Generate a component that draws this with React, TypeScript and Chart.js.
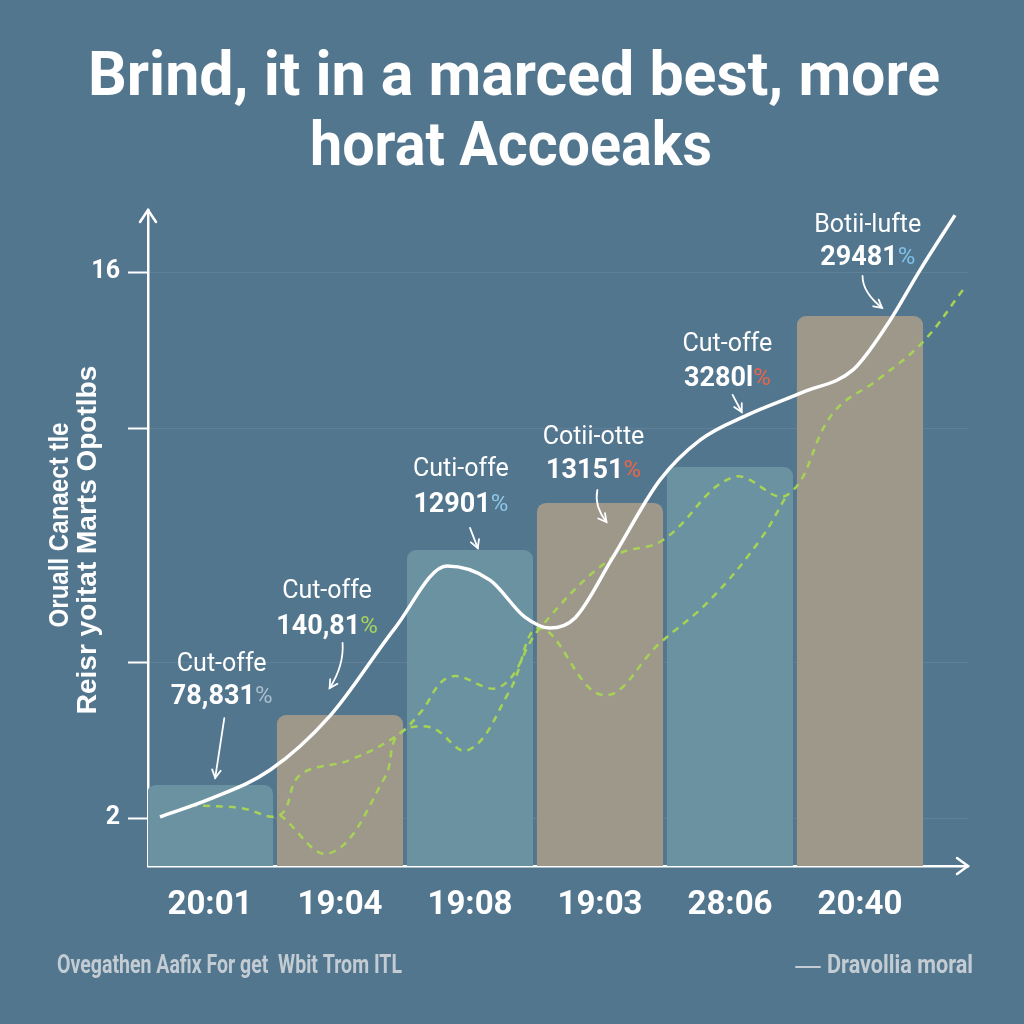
import React, { useEffect, useRef } from 'react';
import { Chart, registerables } from 'chart.js';

Chart.register(...registerables);

// ---- data ----
const categories = ['20:01', '19:04', '19:08', '19:03', '28:06', '20:40'];
const barValues = [2.85, 4.64, 8.87, 10.08, 11.0, 14.87];
const barColors = ['#6a92a1', '#9e988b', '#6a92a1', '#9e988b', '#6a92a1', '#9e988b'];

const yTicks = [2, 6, 12, 16];
const yTickLabels = ['2', '', '', '16'];

const whiteX = [-0.385, 0, 0.462, 0.923, 1.423, 1.823, 2.154, 2.423, 2.615, 2.808, 3.1, 3.462, 3.769, 4.131, 4.562, 4.946, 5.208, 5.462, 5.731];
const whiteY = [2.03, 2.49, 3.23, 4.62, 6.87, 8.46, 8.1, 7.15, 6.87, 7.13, 8.69, 10.67, 11.69, 12.33, 12.92, 13.49, 14.64, 16.05, 17.46];

const greenAX = [-0.154, 0.231, 0.538, 0.692, 1.077, 1.446, 1.615, 1.846, 2.231, 2.538, 3.1, 3.485, 4.023, 4.438, 4.792, 5.154, 5.485, 5.792];
const greenAY = [2.33, 2.26, 2.08, 3.1, 3.49, 4.13, 4.69, 5.62, 5.36, 6.87, 8.69, 9.13, 10.74, 10.28, 12.38, 13.28, 14.21, 15.54];

const greenBX = [0.538, 0.923, 1.346, 1.446, 1.692, 1.985, 2.308, 2.538, 3.023, 3.462, 3.846, 4.231, 4.438];
const greenBY = [2.08, 1.1, 3.05, 4.13, 4.33, 3.74, 5.28, 6.87, 5.15, 6.49, 7.59, 9.13, 10.28];

const annLabels = ['Cut-offe', 'Cut-offe', 'Cuti-offe', 'Cotii-otte', 'Cut-offe', 'Botii-lufte'];
const annValues = ['78,831', '140,81', '12901', '13151', '3280l', '29481'];
const annSuffixColors = ['#a9bfce', '#a6d45c', '#8ec6e6', '#e8664a', '#e8664a', '#7fc2ea'];
const annX = [0.09, 0.9, 1.93, 2.95, 3.98, 5.06];
const annLabelY = [5.92, 7.79, 10.92, 11.74, 14.13, 17.18];
const annValueY = [5.1, 6.9, 10.03, 10.9, 13.26, 16.36];
const annFromX = [0.11, 1.02, 2.0, 2.98, 4.02, 5.02];
const annFromY = [4.56, 6.49, 9.44, 10.41, 12.85, 15.9];
const annToX = [0.04, 0.92, 2.06, 3.05, 4.09, 5.17];
const annToY = [3.03, 5.33, 8.92, 9.59, 12.41, 15.08];
const annBend = [0, 8, 0, -8, 0, -10];

const titleLines = ['Brind, it in a marced best, more', 'horat Accoeaks'];
const yTitleLines = ['Oruall Canaect tle', 'Reisr yoitat Marts Opotlbs'];
const footLeft = 'Ovegathen Aafix For get  Wbit Trom ITL';
const footRight = 'Dravollia moral';

const BG = '#53768f';

const zip = (xs: number[], ys: number[]) => xs.map((x, i) => ({ x, y: ys[i] }));

const decorPlugin = {
  id: 'decor',
  beforeDraw(chart: any) {
    const { ctx, width, height } = chart;
    ctx.save();
    ctx.fillStyle = BG;
    ctx.fillRect(0, 0, width, height);
    ctx.restore();
  },
  afterDraw(chart: any) {
    const { ctx, chartArea } = chart;
    const xs = chart.scales.x;
    const ys = chart.scales.y;
    ctx.save();

    // title
    ctx.fillStyle = '#ffffff';
    ctx.textAlign = 'center';
    ctx.textBaseline = 'alphabetic';
    ctx.font = 'bold 62px Roboto';
    ctx.fillText(titleLines[0], 514, 95, 852);
    ctx.fillText(titleLines[1], 511, 165, 402);

    // y title
    ctx.font = 'bold 28px "Liberation Sans"';
    ctx.textBaseline = 'middle';
    ctx.save();
    ctx.translate(60, 525);
    ctx.rotate(-Math.PI / 2);
    ctx.fillText(yTitleLines[0], 0, 0, 205);
    ctx.restore();
    ctx.save();
    ctx.translate(88, 540);
    ctx.rotate(-Math.PI / 2);
    ctx.fillText(yTitleLines[1], 0, 0, 375);
    ctx.restore();

    // axis arrows
    ctx.strokeStyle = '#ffffff';
    ctx.lineWidth = 2.5;
    ctx.lineCap = 'round';
    ctx.beginPath();
    ctx.moveTo(chartArea.left - 8, chartArea.top + 12);
    ctx.lineTo(chartArea.left, chartArea.top);
    ctx.lineTo(chartArea.left + 8, chartArea.top + 12);
    ctx.stroke();
    ctx.beginPath();
    ctx.moveTo(chartArea.right - 11, chartArea.bottom - 8);
    ctx.lineTo(chartArea.right, chartArea.bottom);
    ctx.lineTo(chartArea.right - 11, chartArea.bottom + 8);
    ctx.stroke();

    // annotations
    for (let i = 0; i < annLabels.length; i++) {
      const cx = xs.getPixelForValue(annX[i]);
      const ly = ys.getPixelForValue(annLabelY[i]);
      const vy = ys.getPixelForValue(annValueY[i]);
      ctx.fillStyle = '#ffffff';
      ctx.textAlign = 'center';
      ctx.textBaseline = 'middle';
      ctx.font = '25px Roboto';
      ctx.fillText(annLabels[i], cx, ly);
      ctx.font = 'bold 27px Roboto';
      const nw = ctx.measureText(annValues[i]).width;
      ctx.font = '24px Roboto';
      const sw = ctx.measureText('%').width;
      const sx = cx - (nw + sw) / 2;
      ctx.textAlign = 'left';
      ctx.font = 'bold 27px Roboto';
      ctx.fillStyle = '#ffffff';
      ctx.fillText(annValues[i], sx, vy);
      ctx.font = '24px Roboto';
      ctx.fillStyle = annSuffixColors[i];
      ctx.fillText('%', sx + nw, vy);

      // arrow
      const x1 = xs.getPixelForValue(annFromX[i]);
      const y1 = ys.getPixelForValue(annFromY[i]);
      const x2 = xs.getPixelForValue(annToX[i]);
      const y2 = ys.getPixelForValue(annToY[i]);
      const mx = (x1 + x2) / 2 + annBend[i];
      const my = (y1 + y2) / 2;
      ctx.strokeStyle = '#ffffff';
      ctx.lineWidth = 1.8;
      ctx.beginPath();
      ctx.moveTo(x1, y1);
      ctx.quadraticCurveTo(mx, my, x2, y2);
      ctx.stroke();
      const ang = Math.atan2(y2 - my, x2 - mx);
      const h = 9;
      ctx.beginPath();
      ctx.moveTo(x2 - h * Math.cos(ang - 0.5), y2 - h * Math.sin(ang - 0.5));
      ctx.lineTo(x2, y2);
      ctx.lineTo(x2 - h * Math.cos(ang + 0.5), y2 - h * Math.sin(ang + 0.5));
      ctx.stroke();
    }

    // footer
    ctx.fillStyle = '#c3ccd3';
    ctx.textAlign = 'left';
    ctx.textBaseline = 'middle';
    ctx.font = 'bold 25px Roboto';
    ctx.fillText(footLeft, 57, 967, 345);
    ctx.fillText(footRight, 827, 967, 146);
    ctx.strokeStyle = '#c3ccd3';
    ctx.lineWidth = 2;
    ctx.beginPath();
    ctx.moveTo(796, 967);
    ctx.lineTo(820, 967);
    ctx.stroke();

    ctx.restore();
  },
};

export default function App() {
  const ref = useRef<HTMLCanvasElement | null>(null);

  useEffect(() => {
    document.body.style.margin = '0';
    document.body.style.background = BG;
    const canvas = ref.current;
    if (!canvas) return;
    const chart = new Chart(canvas, {
      type: 'bar',
      data: {
        datasets: [
          {
            type: 'line',
            label: 'white',
            data: zip(whiteX, whiteY),
            borderColor: '#ffffff',
            borderWidth: 3.5,
            pointRadius: 0,
            cubicInterpolationMode: 'monotone',
            fill: false,
            order: 1,
          } as any,
          {
            type: 'line',
            label: 'greenA',
            data: zip(greenAX, greenAY),
            borderColor: '#a6d256',
            borderWidth: 2.5,
            borderDash: [7, 6],
            pointRadius: 0,
            tension: 0.4,
            fill: false,
            order: 2,
          } as any,
          {
            type: 'line',
            label: 'greenB',
            data: zip(greenBX, greenBY),
            borderColor: '#a6d256',
            borderWidth: 2.5,
            borderDash: [7, 6],
            pointRadius: 0,
            tension: 0.4,
            fill: false,
            order: 2,
          } as any,
          {
            type: 'bar',
            label: 'bars',
            data: barValues.map((v, i) => ({ x: i, y: v })),
            backgroundColor: barColors,
            borderWidth: 0,
            borderRadius: { topLeft: 9, topRight: 9, bottomLeft: 0, bottomRight: 0 },
            borderSkipped: 'bottom',
            barPercentage: 0.97,
            categoryPercentage: 1,
            order: 3,
          } as any,
        ],
      },
      options: {
        animation: false,
        responsive: true,
        maintainAspectRatio: false,
        layout: { padding: { top: 210, right: 56, left: 0, bottom: 0 } },
        plugins: { legend: { display: false }, tooltip: { enabled: false }, title: { display: false } },
        scales: {
          x: {
            type: 'linear',
            offset: false,
            min: -0.477,
            max: 5.831,
            afterBuildTicks: (scale: any) => {
              scale.ticks = categories.map((_, i) => ({ value: i }));
            },
            afterFit: (scale: any) => {
              scale.height = 158;
            },
            grid: { display: false, drawTicks: false },
            border: { display: true, color: '#ffffff', width: 2.5 },
            ticks: {
              color: '#ffffff',
              font: { family: 'Roboto', weight: 'bold', size: 33 },
              padding: 20,
              autoSkip: false,
              maxRotation: 0,
              callback: (v: any) => categories[Math.round(Number(v))] ?? '',
            },
          },
          y: {
            type: 'linear',
            min: 0.77,
            max: 17.59,
            afterBuildTicks: (scale: any) => {
              scale.ticks = yTicks.map((v) => ({ value: v }));
            },
            afterFit: (scale: any) => {
              scale.width = 148;
            },
            grid: {
              color: 'rgba(255,255,255,0.08)',
              lineWidth: 1,
              tickColor: '#ffffff',
              tickLength: 20,
              tickWidth: 2,
              drawTicks: true,
            },
            border: { display: true, color: '#ffffff', width: 2.5 },
            ticks: {
              color: '#ffffff',
              font: { family: 'Roboto', weight: 'bold', size: 25 },
              padding: 8,
              autoSkip: false,
              callback: (_v: any, i: number) => yTickLabels[i] ?? '',
            },
          },
        },
      },
      plugins: [decorPlugin],
    } as any);
    return () => chart.destroy();
  }, []);

  return (
    <div style={{ width: 1024, height: 1024, position: 'relative' }}>
      <canvas ref={ref} />
    </div>
  );
}
